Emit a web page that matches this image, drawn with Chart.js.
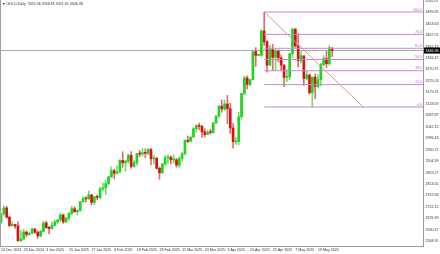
<!DOCTYPE html>
<html>
<head>
<meta charset="utf-8">
<script src="https://cdn.jsdelivr.net/npm/chart.js@4/dist/chart.umd.min.js"></script>
<style>
  html, body { margin: 0; padding: 0; background: #fff; }
  #wrap { width: 440px; height: 254px; }
</style>
</head>
<body>
<div id="wrap"><canvas id="chart" width="440" height="254"></canvas></div>
<script>
// daily bars, GOLD
const dates = [
  '10 Dec 2024','11 Dec 2024','12 Dec 2024','13 Dec 2024','16 Dec 2024','17 Dec 2024','18 Dec 2024','19 Dec 2024',
  '20 Dec 2024','23 Dec 2024','24 Dec 2024','26 Dec 2024','27 Dec 2024','30 Dec 2024','31 Dec 2024','2 Jan 2025',
  '3 Jan 2025','6 Jan 2025','7 Jan 2025','8 Jan 2025','9 Jan 2025','10 Jan 2025','13 Jan 2025','14 Jan 2025',
  '15 Jan 2025','16 Jan 2025','17 Jan 2025','20 Jan 2025','21 Jan 2025','22 Jan 2025','23 Jan 2025','24 Jan 2025',
  '27 Jan 2025','28 Jan 2025','29 Jan 2025','30 Jan 2025','31 Jan 2025','3 Feb 2025','4 Feb 2025','5 Feb 2025',
  '6 Feb 2025','7 Feb 2025','10 Feb 2025','11 Feb 2025','12 Feb 2025','13 Feb 2025','14 Feb 2025','17 Feb 2025',
  '18 Feb 2025','19 Feb 2025','20 Feb 2025','21 Feb 2025','24 Feb 2025','25 Feb 2025','26 Feb 2025','27 Feb 2025',
  '28 Feb 2025','3 Mar 2025','4 Mar 2025','5 Mar 2025','6 Mar 2025','7 Mar 2025','10 Mar 2025','11 Mar 2025',
  '12 Mar 2025','13 Mar 2025','14 Mar 2025','17 Mar 2025','18 Mar 2025','19 Mar 2025','20 Mar 2025','21 Mar 2025',
  '24 Mar 2025','25 Mar 2025','26 Mar 2025','27 Mar 2025','28 Mar 2025','31 Mar 2025','1 Apr 2025','2 Apr 2025',
  '3 Apr 2025','4 Apr 2025','7 Apr 2025','8 Apr 2025','9 Apr 2025','10 Apr 2025','11 Apr 2025','14 Apr 2025',
  '15 Apr 2025','16 Apr 2025','17 Apr 2025','18 Apr 2025','21 Apr 2025','22 Apr 2025','23 Apr 2025','24 Apr 2025',
  '25 Apr 2025','28 Apr 2025','29 Apr 2025','30 Apr 2025','1 May 2025','2 May 2025','5 May 2025','6 May 2025',
  '7 May 2025','8 May 2025','9 May 2025','12 May 2025','13 May 2025','14 May 2025','15 May 2025','16 May 2025',
  '19 May 2025','20 May 2025','21 May 2025','22 May 2025','23 May 2025','26 May 2025'
];
const opens = [
  2660,2694,2718,2681,2648,2652,2646,2587,2594,2622,2612,2617,2634,2621,2606,2624,
  2658,2640,2635,2649,2662,2670,2690,2662,2677,2696,2715,2703,2708,2743,2755,2754,
  2770,2740,2763,2760,2794,2798,2815,2842,2867,2856,2861,2908,2898,2905,2928,2883,
  2898,2935,2933,2939,2936,2951,2914,2916,2876,2858,2893,2918,2920,2910,2910,2889,
  2916,2934,2988,2984,3001,3034,3047,3044,3022,3011,3020,3019,3057,3085,3124,3113,
  3133,3114,3037,2982,2983,3082,3175,3237,3211,3230,3342,3327,3327,3424,3381,3288,
  3350,3319,3344,3317,3288,3239,3241,3334,3431,3365,3306,3325,3235,3249,3178,3240,
  3203,3230,3290,3314,3294,3352.36
];
const highs = [
  2695,2726,2725,2685,2664,2654,2662,2628,2632,2625,2620,2638,2636,2627,2630,2664,
  2665,2645,2662,2670,2673,2697,2692,2680,2700,2725,2723,2710,2745,2763,2763,2786,
  2772,2764,2770,2800,2817,2830,2845,2882,2873,2886,2911,2942,2909,2933,2943,2907,
  2936,2947,2955,2954,2956,2956,2928,2920,2881,2896,2928,2930,2926,2930,2915,2922,
  2940,2990,3005,3002,3038,3050,3057,3047,3034,3029,3032,3060,3087,3128,3149,3148,
  3167,3136,3055,3000,3100,3176,3245,3245,3230,3344,3358,3330,3430,3500,3386,3367,
  3371,3352,3349,3328,3290,3269,3335,3437,3435,3414,3346,3325,3265,3252,3241,3253,
  3250,3295,3325,3345,3366,3358.85
];
const lows = [
  2655,2689,2676,2643,2644,2636,2584,2583,2592,2602,2608,2614,2616,2596,2603,2623,
  2636,2614,2634,2645,2657,2664,2656,2660,2668,2690,2700,2689,2705,2741,2741,2752,
  2730,2731,2750,2755,2786,2772,2810,2840,2834,2853,2860,2880,2864,2897,2876,2881,
  2889,2922,2925,2919,2930,2890,2893,2873,2832,2857,2888,2896,2894,2897,2880,2880,
  2905,2930,2978,2982,3000,3021,3030,2999,3001,3010,3012,3017,3055,3077,3100,3106,
  3054,3015,2957,2970,2970,3072,3170,3193,3205,3229,3283,3325,3323,3367,3260,3287,
  3267,3268,3300,3267,3202,3222,3229,3317,3359,3281,3296,3207,3228,3172,3121,3154,
  3196,3205,3285,3278,3287,3321.61
];
const closes = [
  2694,2718,2681,2648,2652,2646,2587,2594,2622,2612,2617,2634,2621,2606,2624,2658,
  2640,2635,2649,2662,2670,2690,2662,2677,2696,2715,2703,2708,2743,2755,2754,2770,
  2740,2763,2760,2794,2798,2815,2842,2867,2856,2861,2908,2898,2905,2928,2883,2898,
  2935,2933,2939,2936,2951,2914,2916,2876,2858,2893,2918,2920,2910,2910,2889,2916,
  2934,2988,2984,3001,3034,3047,3044,3022,3011,3020,3019,3057,3085,3124,3113,3133,
  3114,3037,2982,2983,3082,3175,3237,3211,3230,3342,3327,3327,3424,3381,3288,3350,
  3319,3344,3317,3288,3239,3241,3334,3431,3365,3306,3325,3235,3249,3178,3240,3203,
  3230,3290,3314,3294,3357,3346.38
];

// price scale labels on the right
const yTicks = [
  2584.95,2630.67,2676.39,2722.11,2767.83,2813.55,2859.27,2904.99,2950.71,2996.43,3042.15,
  3087.87,3133.59,3179.31,3225.03,3270.75,3316.47,3362.19,3407.91,3453.63,3499.35,3545.07
];
// date labels every 8 bars
const xTickIdx = [0, 8, 16, 24, 32, 40, 48, 56, 64, 72, 80, 88, 96, 104, 112];

// fibonacci retracement (22 Apr high -> 15 May low)
const fibHigh = 3500.1;
const fibLow = 3120.8;
const fibLevels = [0, 23.6, 38.2, 50, 61.8, 76.4, 100];
const fibFrom = 93;
const fibTo = 128;

const header = '\u25BC GOLD,Daily  3352.36 3358.85 3321.61 3346.38';

const xMin = -0.35, xMax = 149.1;
const yMin = 2566, yMax = 3548;
const lastClose = closes[closes.length - 1];

const GREEN = '#1ed41e', RED = '#dc1010';
const up = closes.map((c, i) => c >= opens[i]);

const datasets = [];
fibLevels.forEach(l => {
  const p = fibLow + (fibHigh - fibLow) * l / 100;
  datasets.push({
    type: 'line', order: 0, borderColor: '#c58ad2', borderWidth: 1, pointRadius: 0,
    data: [{x: fibFrom, y: p}, {x: xMax, y: p}]
  });
});
datasets.push({
  type: 'line', order: 0, borderColor: '#e49494', borderWidth: 1, pointRadius: 0,
  data: [{x: fibFrom, y: fibHigh}, {x: fibTo, y: fibLow}]
});
datasets.push({
  type: 'line', order: 3, borderColor: '#a8a8a8', borderWidth: 1, pointRadius: 0,
  data: [{x: xMin, y: lastClose}, {x: xMax, y: lastClose}]
});
datasets.push({
  type: 'bar', order: 2, grouped: false, barThickness: 1,
  backgroundColor: up.map(u => u ? '#6fdc6f' : '#e46a6a'),
  data: dates.map((d, i) => ({x: i, y: [lows[i], highs[i]]}))
});
datasets.push({
  type: 'bar', order: 1, grouped: false, barThickness: 2, minBarLength: 1,
  backgroundColor: up.map(u => u ? GREEN : RED),
  data: dates.map((d, i) => ({x: i, y: [opens[i], closes[i]]}))
});

const overlay = {
  id: 'overlay',
  afterDraw(chart) {
    const {ctx, chartArea: a, scales: {y}} = chart;
    ctx.save();
    ctx.strokeStyle = '#a0a0a0';
    ctx.lineWidth = 1;
    ctx.beginPath();
    ctx.moveTo(0.5, 0); ctx.lineTo(0.5, a.bottom);
    ctx.stroke();

    ctx.font = '3.6px "Liberation Sans", Arial, sans-serif';
    ctx.fillStyle = '#333';
    ctx.textBaseline = 'middle';
    ctx.textAlign = 'left';
    ctx.fillText(header, 2, 3.5);

    ctx.fillStyle = '#b46ec4';
    ctx.textAlign = 'right';
    ctx.textBaseline = 'bottom';
    fibLevels.forEach(l => {
      const p = fibLow + (fibHigh - fibLow) * l / 100;
      ctx.fillText(l.toFixed(1), a.right - 1, y.getPixelForValue(p) - 0.5);
    });

    const py = y.getPixelForValue(lastClose);
    ctx.fillStyle = '#000';
    ctx.fillRect(a.right + 1, py - 3, 16, 6);
    ctx.fillStyle = '#fff';
    ctx.textAlign = 'left';
    ctx.textBaseline = 'middle';
    ctx.fillText(lastClose.toFixed(2), a.right + 2.5, py);
    ctx.restore();
  }
};

new Chart(document.getElementById('chart'), {
  type: 'bar',
  data: { datasets },
  options: {
    responsive: false,
    animation: false,
    devicePixelRatio: 1,
    layout: { padding: 0 },
    plugins: { legend: { display: false }, tooltip: { enabled: false } },
    scales: {
      x: {
        type: 'linear', min: xMin, max: xMax, offset: false,
        grid: { display: true, drawOnChartArea: false, tickLength: 1, color: '#999' },
        border: { color: '#999' },
        afterBuildTicks: s => { s.ticks = xTickIdx.map(v => ({value: v})); },
        afterFit: s => { s.height = 8; s.paddingLeft = 0; s.paddingRight = 0; },
        ticks: {
          autoSkip: false, maxRotation: 0, align: 'start', padding: 1,
          color: '#333', font: { size: 3.6, family: '"Liberation Sans", Arial, sans-serif' },
          callback: v => dates[v]
        }
      },
      y: {
        position: 'right', min: yMin, max: yMax,
        grid: { display: true, drawOnChartArea: false, tickLength: 1, color: '#999' },
        border: { color: '#999' },
        afterBuildTicks: s => { s.ticks = yTicks.map(v => ({value: v})); },
        afterFit: s => { s.width = 17; s.paddingTop = 0; s.paddingBottom = 0; },
        ticks: {
          padding: 1.5, color: '#333',
          font: { size: 3.6, family: '"Liberation Sans", Arial, sans-serif' },
          callback: v => v.toFixed(2)
        }
      }
    }
  },
  plugins: [overlay]
});
</script>
</body>
</html>
